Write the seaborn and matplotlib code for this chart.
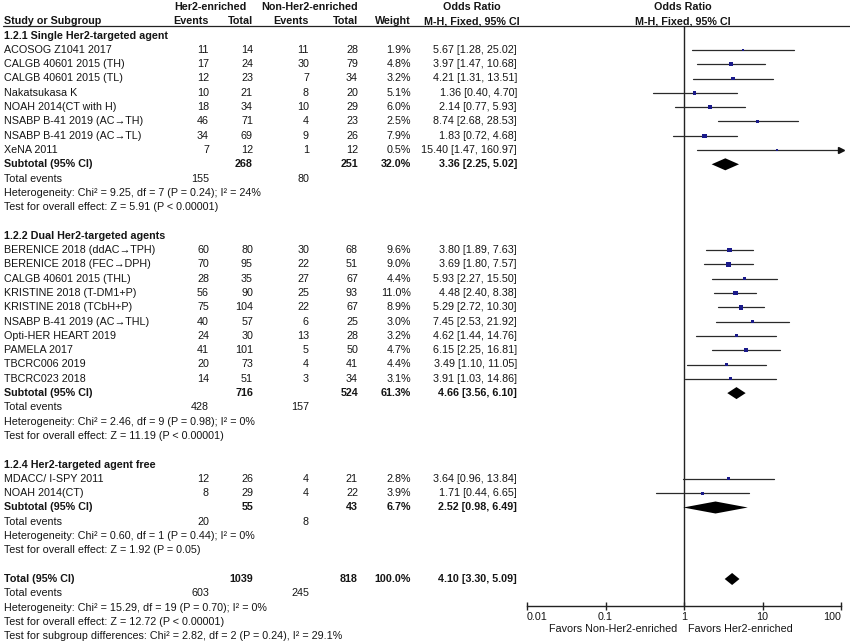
import matplotlib
matplotlib.use("Agg")
import matplotlib.pyplot as plt
import numpy as np
import pandas as pd
import seaborn as sns
from matplotlib.ticker import NullLocator

# ---- data ----
group_titles = ["1.2.1 Single Her2-targeted agent",
                "1.2.2 Dual Her2-targeted agents",
                "1.2.4 Her2-targeted agent free"]

studies = ["ACOSOG Z1041 2017", "CALGB 40601 2015 (TH)", "CALGB 40601 2015 (TL)",
           "Nakatsukasa K", "NOAH 2014(CT with H)", "NSABP B-41 2019 (AC\u2192TH)",
           "NSABP B-41 2019 (AC\u2192TL)", "XeNA 2011",
           "BERENICE 2018 (ddAC\u2192TPH)", "BERENICE 2018 (FEC\u2192DPH)",
           "CALGB 40601 2015 (THL)", "KRISTINE 2018 (T-DM1+P)", "KRISTINE 2018 (TCbH+P)",
           "NSABP B-41 2019 (AC\u2192THL)", "Opti-HER HEART 2019", "PAMELA 2017",
           "TBCRC006 2019", "TBCRC023 2018",
           "MDACC/ I-SPY 2011", "NOAH 2014(CT)"]
study_group = [0] * 8 + [1] * 10 + [2] * 2
her2_events = [11, 17, 12, 10, 18, 46, 34, 7, 60, 70, 28, 56, 75, 40, 24, 41, 20, 14, 12, 8]
her2_total = [14, 24, 23, 21, 34, 71, 69, 12, 80, 95, 35, 90, 104, 57, 30, 101, 73, 51, 26, 29]
non_events = [11, 30, 7, 8, 10, 4, 9, 1, 30, 22, 27, 25, 22, 6, 13, 5, 4, 3, 4, 4]
non_total = [28, 79, 34, 20, 29, 23, 26, 12, 68, 51, 67, 93, 67, 25, 28, 50, 41, 34, 21, 22]
weight = [1.9, 4.8, 3.2, 5.1, 6.0, 2.5, 7.9, 0.5, 9.6, 9.0, 4.4, 11.0, 8.9, 3.0, 3.2, 4.7,
          4.4, 3.1, 2.8, 3.9]
odds_ratio = [5.67, 3.97, 4.21, 1.36, 2.14, 8.74, 1.83, 15.40, 3.80, 3.69, 5.93, 4.48, 5.29,
              7.45, 4.62, 6.15, 3.49, 3.91, 3.64, 1.71]
ci_low = [1.28, 1.47, 1.31, 0.40, 0.77, 2.68, 0.72, 1.47, 1.89, 1.80, 2.27, 2.40, 2.72,
          2.53, 1.44, 2.25, 1.10, 1.03, 0.96, 0.44]
ci_high = [25.02, 10.68, 13.51, 4.70, 5.93, 28.53, 4.68, 160.97, 7.63, 7.57, 15.50, 8.38,
           10.30, 21.92, 14.76, 16.81, 11.05, 14.86, 13.84, 6.65]

sub_her2_total = [268, 716, 55]
sub_non_total = [251, 524, 43]
sub_weight = [32.0, 61.3, 6.7]
sub_or = [3.36, 4.66, 2.52]
sub_low = [2.25, 3.56, 0.98]
sub_high = [5.02, 6.10, 6.49]
sub_her2_events = [155, 428, 20]
sub_non_events = [80, 157, 8]
sub_het = ["Heterogeneity: Chi\u00b2 = 9.25, df = 7 (P = 0.24); I\u00b2 = 24%",
           "Heterogeneity: Chi\u00b2 = 2.46, df = 9 (P = 0.98); I\u00b2 = 0%",
           "Heterogeneity: Chi\u00b2 = 0.60, df = 1 (P = 0.44); I\u00b2 = 0%"]
sub_test = ["Test for overall effect: Z = 5.91 (P < 0.00001)",
            "Test for overall effect: Z = 11.19 (P < 0.00001)",
            "Test for overall effect: Z = 1.92 (P = 0.05)"]

total_her2, total_non, total_weight = 1039, 818, 100.0
total_or, total_low, total_high = 4.10, 3.30, 5.09
total_her2_events, total_non_events = 603, 245
total_notes = ["Heterogeneity: Chi\u00b2 = 15.29, df = 19 (P = 0.70); I\u00b2 = 0%",
               "Test for overall effect: Z = 12.72 (P < 0.00001)",
               "Test for subgroup differences: Chi\u00b2 = 2.82, df = 2 (P = 0.24), I\u00b2 = 29.1%"]

x_ticks = [0.01, 0.1, 1, 10, 100]
x_ticklabels = ["0.01", "0.1", "1", "10", "100"]

# ---- style ----
sns.set_theme(style="white")
plt.rcParams["font.family"] = ["Liberation Sans", "DejaVu Sans"]
FS = 7.75
W, H = 850, 641
ROW0, ROWH = 7, 14.3

fig = plt.figure(figsize=(W / 100, H / 100), dpi=100)
tax = fig.add_axes([0, 0, 1, 1])
tax.set_xlim(0, W)
tax.set_ylim((H - ROW0) / ROWH, -ROW0 / ROWH)
tax.axis("off")

fx0, fx1, fy0, fy1 = 527, 841, 26, 606
fax = fig.add_axes([fx0 / W, 1 - fy1 / H, (fx1 - fx0) / W, (fy1 - fy0) / H])
fax.patch.set_alpha(0)

# column anchors (pixels)
X_NAME, X_HE, X_HT, X_NE, X_NT, X_W, X_OR = 4, 209, 253, 309, 358, 411, 517


def txt(x, r, s, ha="right", bold=False):
    tax.text(x, r, s, ha=ha, va="center", fontsize=FS,
             fontweight="bold" if bold else "normal", color="#151515")


# header
txt(210, 0, "Her2-enriched", ha="center", bold=True)
txt(310, 0, "Non-Her2-enriched", ha="center", bold=True)
txt(472, 0, "Odds Ratio", ha="center", bold=True)
txt(683, 0, "Odds Ratio", ha="center", bold=True)
txt(X_NAME, 1, "Study or Subgroup", ha="left", bold=True)
for x, s in zip([X_HE, X_HT, X_NE, X_NT, X_W], ["Events", "Total", "Events", "Total", "Weight"]):
    txt(x, 1, s, bold=True)
txt(472, 1, "M-H, Fixed, 95% CI", ha="center", bold=True)
txt(683, 1, "M-H, Fixed, 95% CI", ha="center", bold=True)
tax.plot([3, W], [(26 - ROW0) / ROWH] * 2, color="#222222", lw=0.9)

# table rows
study_rows, sub_rows = [], []
r = 2
for g, title in enumerate(group_titles):
    txt(X_NAME, r, title, ha="left", bold=True)
    r += 1
    for i in [k for k, sg in enumerate(study_group) if sg == g]:
        txt(X_NAME, r, studies[i], ha="left")
        txt(X_HE, r, str(her2_events[i]))
        txt(X_HT, r, str(her2_total[i]))
        txt(X_NE, r, str(non_events[i]))
        txt(X_NT, r, str(non_total[i]))
        txt(X_W, r, f"{weight[i]:.1f}%")
        txt(X_OR, r, f"{odds_ratio[i]:.2f} [{ci_low[i]:.2f}, {ci_high[i]:.2f}]")
        study_rows.append(r)
        r += 1
    txt(X_NAME, r, "Subtotal (95% CI)", ha="left", bold=True)
    txt(X_HT, r, str(sub_her2_total[g]), bold=True)
    txt(X_NT, r, str(sub_non_total[g]), bold=True)
    txt(X_W, r, f"{sub_weight[g]:.1f}%", bold=True)
    txt(X_OR, r, f"{sub_or[g]:.2f} [{sub_low[g]:.2f}, {sub_high[g]:.2f}]", bold=True)
    sub_rows.append(r)
    r += 1
    txt(X_NAME, r, "Total events", ha="left")
    txt(X_HE, r, str(sub_her2_events[g]))
    txt(X_NE, r, str(sub_non_events[g]))
    r += 1
    txt(X_NAME, r, sub_het[g], ha="left")
    r += 1
    txt(X_NAME, r, sub_test[g], ha="left")
    r += 2

total_row = r
txt(X_NAME, r, "Total (95% CI)", ha="left", bold=True)
txt(X_HT, r, str(total_her2), bold=True)
txt(X_NT, r, str(total_non), bold=True)
txt(X_W, r, f"{total_weight:.1f}%", bold=True)
txt(X_OR, r, f"{total_or:.2f} [{total_low:.2f}, {total_high:.2f}]", bold=True)
r += 1
txt(X_NAME, r, "Total events", ha="left")
txt(X_HE, r, str(total_her2_events))
txt(X_NE, r, str(total_non_events))
for note in total_notes:
    r += 1
    txt(X_NAME, r, note, ha="left")

# ---- forest panel ----
fax.set_xscale("log")
fax.set_xlim(0.01, 100)
fax.set_ylim((fy1 - ROW0) / ROWH, (fy0 - ROW0) / ROWH)
fax.axvline(1, color="#222222", lw=1.0, zorder=1)

df = pd.DataFrame({"row": study_rows, "odds": odds_ratio, "lo": ci_low,
                   "hi": ci_high, "weight": weight})
for _, d in df.iterrows():
    hi = min(d["hi"], 100)
    fax.plot([d["lo"], hi], [d["row"], d["row"]], color="#2a2a2a", lw=0.9, zorder=2)
    if d["hi"] > 100:
        fax.plot([100], [d["row"]], marker=">", ms=4, color="#111111", clip_on=False, zorder=3)
sns.scatterplot(data=df, x="odds", y="row", size="weight", sizes=(2, 12), size_norm=(0, 11),
                marker="s", color="#1a1a8a", linewidth=0, legend=False, ax=fax, zorder=4)

dh = 0.42
for rr, est, lo, hi in zip(sub_rows + [total_row], sub_or + [total_or],
                           sub_low + [total_low], sub_high + [total_high]):
    fax.fill([lo, est, hi, est], [rr, rr - dh, rr, rr + dh], color="black", lw=0, zorder=5)

fax.set_xlabel("")
fax.set_ylabel("")
fax.set_yticks([])
for s in ["top", "left", "right"]:
    fax.spines[s].set_visible(False)
fax.spines["bottom"].set_color("#222222")
fax.spines["bottom"].set_linewidth(1.0)
fax.set_xticks(x_ticks)
fax.set_xticklabels(x_ticklabels)
fax.xaxis.set_minor_locator(NullLocator())
fax.tick_params(axis="x", direction="inout", length=6, width=1, color="#222222",
                labelsize=FS, pad=1.5, labelcolor="#151515", bottom=True)
labels = fax.get_xticklabels()
labels[0].set_horizontalalignment("left")
labels[-1].set_horizontalalignment("right")

fav_r = (629 - ROW0) / ROWH
txt(677, fav_r, "Favors Non-Her2-enriched")
txt(688, fav_r, "Favors Her2-enriched", ha="left")

fig.savefig("out.png", dpi=100)
